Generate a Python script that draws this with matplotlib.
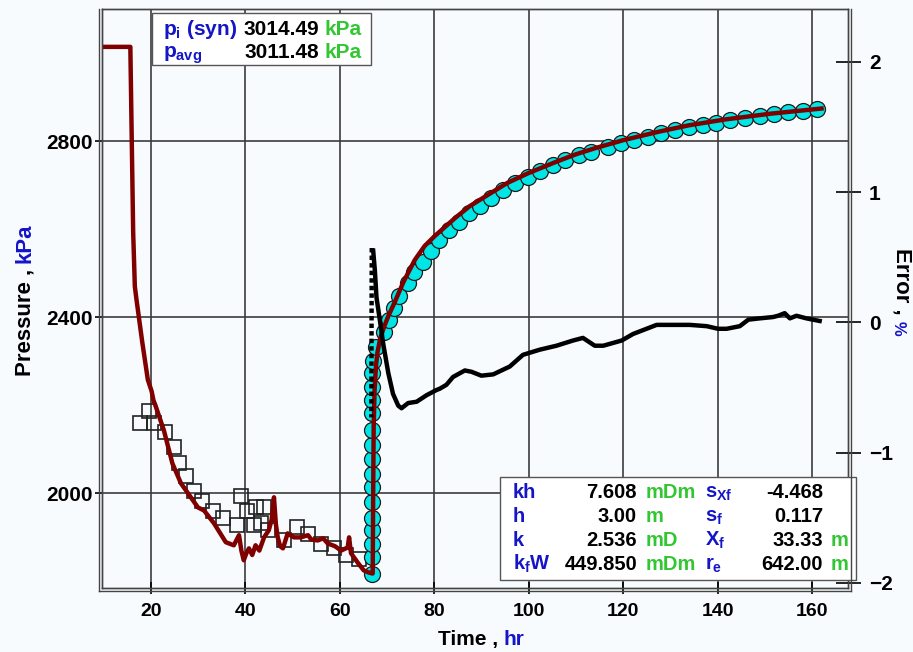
import matplotlib
matplotlib.use('Agg')
import matplotlib.pyplot as plt
from matplotlib.patches import Rectangle
from matplotlib.lines import Line2D

plt.rcParams['font.family'] = ['Liberation Sans', 'DejaVu Sans']
plt.rcParams['font.weight'] = 'bold'
plt.rcParams['mathtext.fontset'] = 'custom'
plt.rcParams['mathtext.rm'] = 'Liberation Sans:bold'
plt.rcParams['mathtext.it'] = 'Liberation Sans:bold'
plt.rcParams['mathtext.bf'] = 'Liberation Sans:bold'

BLUE = '#1414c8'
GREEN = '#33c633'
RED = '#800000'
CYAN = '#00e6e6'
BG = '#f8fbfe'

# simulated pressure (model), kPa vs hr
sim_t = [9.7, 15.7, 16.0, 16.3, 16.65, 17.0, 18.2, 19.4, 20.2, 20.6, 21.0, 22.8, 24.6,
         26.4, 28.5, 30.0, 31.3, 33.4, 35.9, 37.6, 38.7, 39.2, 39.7, 40.3, 40.8, 41.5,
         42.2, 43.0, 44.0, 45.0, 45.6, 46.1, 46.5, 46.9, 47.4, 48.0, 49.0, 50.3, 51.8,
         53.3, 54.0, 55.4, 56.5, 57.5, 59.0, 60.3, 61.7, 62.0, 62.4, 63.8, 65.1, 66.2,
         66.9, 67.0, 67.1, 67.2, 67.4, 67.7, 68.0, 68.6, 69.4, 70.4, 71.7, 73.5, 75.9,
         78.0, 80.2, 84.4, 87.5, 91.4, 95.5, 99.9, 105.6, 110.0, 114.1, 120.0, 127.4,
         134.0, 141.5, 151.0, 162.0]
sim_p = [3014, 3014, 2800, 2592, 2470, 2440, 2345, 2258, 2232, 2211, 2200, 2143, 2068,
         2023, 1991, 1968, 1961, 1932, 1889, 1882, 1905, 1870, 1848, 1865, 1875, 1860,
         1882, 1870, 1900, 1916, 1940, 1991, 1930, 1900, 1880, 1875, 1909, 1900, 1900,
         1905, 1895, 1893, 1898, 1886, 1880, 1870, 1877, 1900, 1864, 1843, 1825, 1820,
         1818, 1818, 2000, 2150, 2235, 2290, 2320, 2352, 2378, 2405, 2435, 2480, 2530,
         2562, 2585, 2625, 2652, 2678, 2705, 2727, 2752, 2770, 2784, 2802, 2821,
         2836, 2849, 2862, 2874]

# drawdown measured pressure (open squares)
sq_t = [17.7, 19.6, 20.8, 23.0, 24.9, 25.9, 27.4, 29.1, 30.8, 33.2, 35.4, 38.2, 39.1,
        40.3, 42.2, 43.9, 41.8, 43.3, 44.8, 48.2, 50.9, 53.3, 56.0, 58.8, 61.3, 64.1]
sq_p = [2159, 2186, 2159, 2139, 2105, 2068, 2039, 2005, 1982, 1961, 1943, 1929, 1993,
        1959, 1970, 1968, 1929, 1932, 1916, 1895, 1923, 1907, 1886, 1875, 1859, 1850]

# buildup measured pressure (cyan circles)
bu_t = [66.8, 66.8, 66.8, 66.8, 66.8, 66.8, 66.8, 66.8, 66.8, 66.8, 66.8, 66.8, 66.8,
        66.8, 66.85, 67.0, 67.7, 69.4, 70.5, 71.5, 72.6, 74.4, 75.8, 77.6, 79.3, 81.1,
        83.2, 85.3, 87.4, 89.7, 92.0, 94.5, 97.2, 99.8, 102.5, 105.1, 107.8, 110.6,
        113.2, 116.8, 119.6, 122.3, 125.2, 128.1, 130.9, 133.9, 136.9, 139.7, 142.7,
        145.8, 148.9, 151.9, 155.0, 158.1, 161.1]
bu_p = [1816, 1855, 1884, 1916, 1945, 1980, 2014, 2045, 2077, 2109, 2143, 2182, 2211,
        2241, 2273, 2300, 2332, 2366, 2393, 2420, 2448, 2477, 2503, 2526, 2550, 2575,
        2598, 2617, 2636, 2653, 2670, 2689, 2704, 2719, 2733, 2746, 2757, 2768, 2776,
        2786, 2795, 2802, 2810, 2819, 2825, 2831, 2837, 2842, 2848, 2852, 2857, 2862,
        2865, 2869, 2873]

# error, %
err_early_t = [66.8, 66.7]
err_early = [0.57, -0.73]
err_t = [67.1, 67.45, 67.8, 68.5, 69.2, 70.3, 71.3, 72.4, 73.1, 74.5, 76.3, 78.4, 80.5,
         81.2, 82.6, 84.0, 86.5, 87.9, 90.0, 92.5, 96.0, 98.8, 102.4, 105.9, 109.4,
         111.5, 114.0, 115.8, 119.7, 122.1, 127.1, 130.6, 134.1, 137.7, 140.1, 141.9,
         144.7, 146.5, 148.9, 151.7, 152.8, 154.2, 155.3, 156.7, 158.8, 161.6]
err = [0.55, 0.40, 0.19, 0.02, -0.16, -0.39, -0.55, -0.64, -0.66, -0.62, -0.61, -0.56,
       -0.52, -0.51, -0.48, -0.42, -0.37, -0.38, -0.41, -0.40, -0.34, -0.25, -0.21,
       -0.18, -0.14, -0.12, -0.18, -0.18, -0.14, -0.09, -0.02, -0.02, -0.02, -0.03,
       -0.05, -0.05, -0.03, 0.02, 0.03, 0.04, 0.05, 0.07, 0.03, 0.05, 0.03, 0.01]

x_ticks = [20, 40, 60, 80, 100, 120, 140, 160]
y_ticks = [2000, 2400, 2800]
err_ticks = [-2, -1, 0, 1, 2]

top_rows = [('$p_i$ (syn)', '3014.49', 'kPa'), ('$p_{avg}$', '3011.48', 'kPa')]
res_rows = [('kh', '7.608', 'mDm', '$s_{Xf}$', '-4.468', ''),
            ('h', '3.00', 'm', '$s_f$', '0.117', ''),
            ('k', '2.536', 'mD', '$X_f$', '33.33', 'm'),
            ('$k_f$W', '449.850', 'mDm', '$r_e$', '642.00', 'm')]

W, H = 913, 652


def fx(x):
    return x / W


def fy(y):
    return 1 - y / H


fig = plt.figure(figsize=(W / 100, H / 100), dpi=100, facecolor=BG)
ax = fig.add_axes([fx(102), fy(588), fx(848) - fx(102), fy(9) - fy(588)])
ax.set_facecolor(BG)
ax2 = ax.twinx()

ax.set_xlim(9.7, 167.6)
ax.set_ylim(1785, 3100)
ax2.set_ylim(-2.04, 2.405)

ax.set_xticks(x_ticks)
ax.set_yticks(y_ticks)
ax2.set_yticks(err_ticks)
ax.grid(True, color='#3c3c3c', lw=1.2)
ax.tick_params(axis='y', direction='out', length=5, width=1.2, labelsize=15, pad=1.5)
ax.tick_params(axis='x', direction='inout', length=8, width=1.2, labelsize=14, pad=7)
ax2.tick_params(axis='y', direction='inout', length=18, width=1.2, labelsize=15, pad=6)

for a in (ax, ax2):
    for s in a.spines.values():
        s.set_color('#444444')
        s.set_linewidth(1.0)

# double frame lines
fig.add_artist(Line2D([fx(99), fx(99)], [fy(591), fy(9)], color='#444444', lw=1.0))
fig.add_artist(Line2D([fx(851), fx(851)], [fy(591), fy(9)], color='#444444', lw=1.0))
fig.add_artist(Line2D([fx(99), fx(851)], [fy(591), fy(591)], color='#444444', lw=1.0))

ax.plot(sq_t, sq_p, 's', ms=9.5, mfc='none', mec='#222222', mew=1.2, zorder=3)
ax.plot(bu_t, bu_p, 'o', ms=11.5, mfc=CYAN, mec='#1a1a1a', mew=0.9, zorder=4)
ax.plot(sim_t, sim_p, color=RED, lw=3.2, zorder=5, solid_joinstyle='round')

ax2.plot(err_early_t, err_early, color='black', lw=3.2, ls=(0, (1, 0.7)), zorder=6)
ax2.plot(err_t, err, color='black', lw=3.2, zorder=6, solid_joinstyle='round')

# axis labels
t1 = fig.text(fx(438), fy(645), 'Time , ', fontsize=15, color='black', va='baseline')
ax.annotate('hr', xy=(1, 0), xycoords=t1, va='bottom', ha='left', fontsize=15,
            color=BLUE, annotation_clip=False)

p1 = fig.text(fx(15), fy(376), 'Pressure , ', rotation=90, fontsize=16,
              ha='left', va='bottom')
ax.annotate('kPa', xy=(0, 1), xycoords=p1, rotation=90, ha='left', va='bottom',
            fontsize=16, color=BLUE, annotation_clip=False)

e1 = fig.text(fx(891), fy(248), 'Error , ', rotation=-90, fontsize=16,
              ha='left', va='top')
ax.annotate('%', xy=(0, 0), xycoords=e1, rotation=-90, ha='left', va='top',
            fontsize=12, color=BLUE, annotation_clip=False)

# info boxes
fig.add_artist(Rectangle((fx(152), fy(65)), fx(371) - fx(152), fy(13) - fy(65),
                         transform=fig.transFigure, facecolor='white',
                         edgecolor='#555555', lw=1.0))
for i, (lab, val, unit) in enumerate(top_rows):
    y = fy(35 + i * 23)
    fig.text(fx(163), y, lab, fontsize=15, color=BLUE, va='baseline')
    fig.text(fx(319), y, val, fontsize=15, color='black', va='baseline', ha='right')
    fig.text(fx(324), y, unit, fontsize=15, color=GREEN, va='baseline')

fig.add_artist(Rectangle((fx(500), fy(580)), fx(856) - fx(500), fy(477) - fy(580),
                         transform=fig.transFigure, facecolor='white',
                         edgecolor='#555555', lw=1.0))
for i, (l1, v1, u1, l2, v2, u2) in enumerate(res_rows):
    y = fy(498 + i * 24)
    fig.text(fx(513), y, l1, fontsize=14.5, color=BLUE, va='baseline')
    fig.text(fx(637), y, v1, fontsize=14.5, color='black', va='baseline', ha='right')
    fig.text(fx(646), y, u1, fontsize=14.5, color=GREEN, va='baseline')
    fig.text(fx(705), y, l2, fontsize=14.5, color=BLUE, va='baseline')
    fig.text(fx(823), y, v2, fontsize=14.5, color='black', va='baseline', ha='right')
    fig.text(fx(831), y, u2, fontsize=14.5, color=GREEN, va='baseline')

fig.savefig('out.png', dpi=100, facecolor=BG)
